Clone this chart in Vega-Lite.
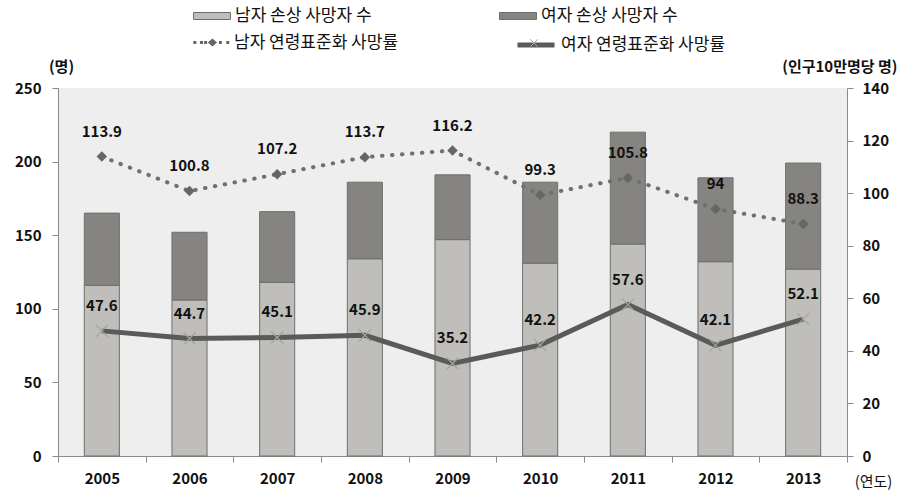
{
  "$schema": "https://vega.github.io/schema/vega-lite/v6.json",
  "width": 789,
  "height": 368,
  "autosize": {"type": "none"},
  "padding": {"left": 58, "top": 88, "right": 52, "bottom": 48},
  "background": "white",
  "config": {
    "font": "Noto Sans CJK KR",
    "view": {"fill": "#eeeeee", "stroke": null},
    "axis": {
      "grid": false,
      "domainColor": "#8a8a8a",
      "tickColor": "#8a8a8a",
      "tickSize": 6,
      "labelFontSize": 15,
      "labelFontWeight": "bold",
      "labelColor": "#111111",
      "titleColor": "#111111"
    },
    "legend": {"labelFontSize": 17, "labelColor": "#111111", "padding": 0, "labelLimit": 400}
  },
  "data": {
    "values": [
      {"year": 2005, "male": 116, "female": 49, "mrate": 113.9, "frate": 47.6},
      {"year": 2006, "male": 106, "female": 46, "mrate": 100.8, "frate": 44.7},
      {"year": 2007, "male": 118, "female": 48, "mrate": 107.2, "frate": 45.1},
      {"year": 2008, "male": 134, "female": 52, "mrate": 113.7, "frate": 45.9},
      {"year": 2009, "male": 147, "female": 44, "mrate": 116.2, "frate": 35.2},
      {"year": 2010, "male": 131, "female": 55, "mrate": 99.3, "frate": 42.2},
      {"year": 2011, "male": 144, "female": 76, "mrate": 105.8, "frate": 57.6},
      {"year": 2012, "male": 132, "female": 57, "mrate": 94, "frate": 42.1},
      {"year": 2013, "male": 127, "female": 72, "mrate": 88.3, "frate": 52.1}
    ]
  },
  "layer": [
    {
      "transform": [{"fold": ["male", "female"], "as": ["sex", "count"]}],
      "mark": {"type": "bar", "width": {"band": 0.4}, "stroke": "#6e6e6e", "strokeWidth": 1},
      "encoding": {
        "x": {
          "field": "year", "type": "ordinal",
          "scale": {"paddingInner": 0, "paddingOuter": 0},
          "axis": {
            "labelAngle": 0, "tickBand": "extent", "labelPadding": 9,
            "title": "(연도)", "titleX": 815, "titleY": 25, "titleAlign": "center",
            "titleBaseline": "middle", "titleFontSize": 15, "titleFontWeight": "normal", "titleAnchor": null
          }
        },
        "y": {
          "field": "count", "type": "quantitative", "stack": "zero",
          "scale": {"domain": [0, 250], "nice": false},
          "axis": {
            "values": [0, 50, 100, 150, 200, 250], "labelPadding": 11,
            "title": "(명)", "titleAngle": 0, "titleX": 3, "titleY": -22,
            "titleAlign": "center", "titleBaseline": "middle", "titleFontSize": 15, "titleFontWeight": "bold"
          }
        },
        "fill": {
          "field": "sex", "type": "nominal",
          "scale": {"domain": ["male", "female"], "range": ["#bfbeba", "#868480"]},
          "legend": {
            "title": null, "orient": "none", "legendX": 135, "legendY": -91,
            "direction": "horizontal", "columnPadding": 125,
            "symbolType": "M-1,-0.19H1V0.19H-1Z", "symbolSize": 1369,
            "symbolStrokeColor": "#6e6e6e", "symbolStrokeWidth": 1, "labelOffset": 4,
            "labelExpr": "datum.value == 'male' ? '남자 손상 사망자 수' : '여자 손상 사망자 수'"
          }
        },
        "order": {"field": "sex", "sort": "descending"}
      }
    },
    {
      "layer": [
        {
          "mark": {"type": "line", "stroke": "#707070", "strokeWidth": 4, "strokeDash": [0.5, 9.5], "strokeCap": "round"},
          "encoding": {
            "x": {"field": "year", "type": "ordinal"},
            "y": {
              "field": "mrate", "type": "quantitative",
              "scale": {"domain": [0, 140], "nice": false},
              "axis": {
                "orient": "right", "values": [0, 20, 40, 60, 80, 100, 120, 140], "labelPadding": 9,
                "title": "(인구10만명당 명)", "titleAngle": 0, "titleX": 50, "titleY": -22,
                "titleAlign": "right", "titleBaseline": "middle", "titleFontSize": 15, "titleFontWeight": "bold"
              }
            }
          }
        },
        {
          "mark": {"type": "point", "shape": "diamond", "size": 110, "filled": true, "opacity": 1},
          "encoding": {
            "x": {"field": "year", "type": "ordinal"},
            "y": {"field": "mrate", "type": "quantitative"},
            "fill": {
              "datum": "남자 연령표준화 사망률",
              "scale": {"range": ["#666666"]},
              "legend": {
                "title": null, "orient": "none", "legendX": 135, "legendY": -64,
                "symbolType": "M-0.98,-0.08h0.16v0.16h-0.16Z M-0.62,-0.08h0.16v0.16h-0.16Z M-0.4,-0.08h0.16v0.16h-0.16Z M-0.2,0L0.05,-0.22L0.3,0L0.05,0.22Z M0.4,-0.08h0.16v0.16h-0.16Z M0.8,-0.08h0.16v0.16h-0.16Z",
                "symbolSize": 1369, "symbolStrokeWidth": 0, "labelOffset": 4
              }
            }
          }
        },
        {
          "mark": {"type": "text", "dy": -25, "fontSize": 15, "fontWeight": "bold", "color": "#111111"},
          "encoding": {
            "x": {"field": "year", "type": "ordinal"},
            "y": {"field": "mrate", "type": "quantitative"},
            "text": {"field": "mrate", "type": "quantitative"}
          }
        },
        {
          "mark": {"type": "line", "strokeWidth": 5},
          "encoding": {
            "x": {"field": "year", "type": "ordinal"},
            "y": {"field": "frate", "type": "quantitative"},
            "stroke": {
              "datum": "여자 연령표준화 사망률",
              "scale": {"range": ["#5a5a5a"]},
              "legend": {
                "title": null, "orient": "none", "legendX": 457, "legendY": -64,
                "symbolType": "M-1,0H1", "symbolSize": 1369, "symbolStrokeWidth": 5, "labelOffset": 4
              }
            }
          }
        },
        {
          "mark": {"type": "point", "shape": "M-1,-1L1,1M-1,1L1,-1", "size": 144, "filled": false, "strokeWidth": 1.2, "opacity": 1},
          "encoding": {
            "x": {"field": "year", "type": "ordinal"},
            "y": {"field": "frate", "type": "quantitative"},
            "stroke": {
              "datum": "x",
              "scale": {"range": ["#a3a3a3"]},
              "legend": {
                "title": null, "orient": "none", "legendX": 457, "legendY": -64,
                "symbolType": "M-0.2,-0.2L0.2,0.2M-0.2,0.2L0.2,-0.2", "symbolSize": 1369,
                "symbolStrokeWidth": 1, "labelOffset": 4, "labelExpr": "''"
              }
            }
          }
        },
        {
          "mark": {"type": "text", "dy": -25, "fontSize": 15, "fontWeight": "bold", "color": "#111111"},
          "encoding": {
            "x": {"field": "year", "type": "ordinal"},
            "y": {"field": "frate", "type": "quantitative"},
            "text": {"field": "frate", "type": "quantitative"}
          }
        }
      ],
      "resolve": {"scale": {"stroke": "independent", "fill": "independent"}}
    }
  ],
  "resolve": {"scale": {"y": "independent", "fill": "independent", "stroke": "independent"}}
}
